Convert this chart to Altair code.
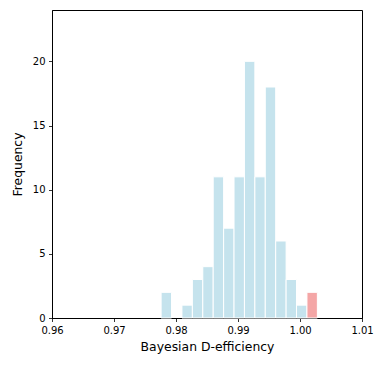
import altair as alt
import pandas as pd

bin_start = [0.9776, 0.97928, 0.98096, 0.98264, 0.98432, 0.986, 0.98768, 0.98936,
             0.99104, 0.99272, 0.9944, 0.99608, 0.99776, 0.99944, 1.00112]
bin_end = [0.97928, 0.98096, 0.98264, 0.98432, 0.986, 0.98768, 0.98936, 0.99104,
           0.99272, 0.9944, 0.99608, 0.99776, 0.99944, 1.00112, 1.0028]
counts = [2, 0, 1, 3, 4, 11, 7, 11, 20, 11, 18, 6, 3, 1, 2]
group = ["other"] * 14 + ["highlight"]

df = pd.DataFrame({"x0": bin_start, "x1": bin_end, "count": counts, "group": group})
df = df[df["count"] > 0]

chart = alt.Chart(df).mark_rect(stroke="white", strokeWidth=1).encode(
    x=alt.X("x0:Q", scale=alt.Scale(domain=[0.96, 1.01], nice=False, zero=False),
            axis=alt.Axis(values=[0.96, 0.97, 0.98, 0.99, 1.00, 1.01], format=".2f",
                          title="Bayesian D-efficiency")),
    x2="x1:Q",
    y=alt.Y("count:Q", scale=alt.Scale(domain=[0, 24], nice=False),
            axis=alt.Axis(values=[0, 5, 10, 15, 20], title="Frequency")),
    y2=alt.datum(0),
    color=alt.Color("group:N", scale=alt.Scale(domain=["other", "highlight"],
                                               range=["#c5e3ed", "#f4a6a6"]), legend=None),
).properties(
    width=310, height=308,
    autosize=alt.AutoSizeParams(type="none"),
    padding={"left": 44, "top": 2, "right": 14, "bottom": 40},
).configure_view(
    stroke="black", strokeWidth=1
).configure_axis(
    grid=False, domainColor="black", tickColor="black", labelColor="black",
    titleColor="black", labelFont="DejaVu Sans", titleFont="DejaVu Sans",
    labelFontSize=10, titleFontSize=12.4, titleFontWeight="normal", tickSize=3.5,
    domainWidth=1, tickWidth=0.8, labelPadding=3.5, labelFlush=False
).configure_axisX(titlePadding=5).configure_axisY(titlePadding=8)

chart.save("out.html", embed_options={"renderer": "svg", "actions": False})
